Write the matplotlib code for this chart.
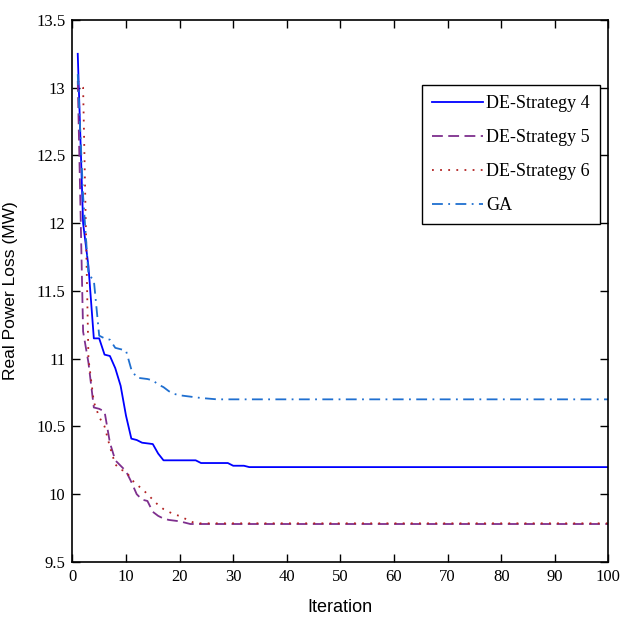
import matplotlib
matplotlib.use("Agg")
import matplotlib.pyplot as plt

# convergence data (iteration, real power loss in MW)
iter_de4 = [1, 2, 3, 4, 5, 6, 7, 8, 9, 10, 11, 12, 13, 15, 16, 17, 23, 24, 29, 30, 32, 33, 100]
loss_de4 = [13.25, 12.0, 11.68, 11.15, 11.15, 11.03, 11.02, 10.93, 10.80, 10.58, 10.41, 10.40,
            10.38, 10.37, 10.30, 10.25, 10.25, 10.23, 10.23, 10.21, 10.21, 10.20, 10.20]

iter_de5 = [1, 2, 3, 4, 5, 6, 7, 8, 9, 10, 11, 12, 13, 14, 15, 16, 17, 18, 20, 22, 100]
loss_de5 = [13.05, 11.2, 10.97, 10.64, 10.63, 10.61, 10.38, 10.25, 10.21, 10.17, 10.09, 10.0,
            9.96, 9.95, 9.87, 9.84, 9.82, 9.81, 9.80, 9.78, 9.78]

iter_de6 = [1, 2, 3, 4, 5, 6, 7, 8, 9, 10, 11, 12, 13, 14, 15, 16, 17, 18, 19, 20, 21, 22, 23, 100]
loss_de6 = [13.05, 13.0, 11.0, 10.68, 10.57, 10.5, 10.35, 10.22, 10.18, 10.17, 10.11, 10.07,
            10.04, 10.0, 9.96, 9.92, 9.89, 9.87, 9.85, 9.84, 9.82, 9.80, 9.785, 9.785]

iter_ga = [1, 2, 3, 4, 5, 6, 7, 8, 9, 10, 11, 12, 14, 15, 16, 17, 18, 19, 20, 22, 24, 27, 100]
loss_ga = [13.1, 12.2, 11.62, 11.58, 11.17, 11.15, 11.14, 11.08, 11.07, 11.06, 10.92, 10.86,
           10.85, 10.84, 10.81, 10.79, 10.76, 10.74, 10.73, 10.72, 10.71, 10.70, 10.70]

labels = ["DE-Strategy 4", "DE-Strategy 5", "DE-Strategy 6", "GA"]
x_ticks = list(range(0, 101, 10))
y_ticks = [9.5, 10, 10.5, 11, 11.5, 12, 12.5, 13, 13.5]

serif = ["Liberation Serif", "DejaVu Serif"]

fig = plt.figure(figsize=(6.24, 6.23), dpi=100)
ax = fig.add_axes([0.116, 0.098, 0.859, 0.870])

ax.plot(iter_de4, loss_de4, color="#0000FF", lw=1.3, ls="-", label=labels[0])
ax.plot(iter_de5, loss_de5, color="#7E2F8E", lw=1.3, ls=(0, (6, 3)), label=labels[1])
ax.plot(iter_de6, loss_de6, color="#B22222", lw=1.3, ls=(0, (1, 3.5)), label=labels[2])
ax.plot(iter_ga, loss_ga, color="#1F6FD0", lw=1.3, ls=(0, (6, 3, 1, 3)), label=labels[3])

ax.set_xlim(0, 100)
ax.set_ylim(9.5, 13.5)
ax.set_xticks(x_ticks)
ax.set_yticks(y_ticks)
ax.set_xticklabels([str(v) for v in x_ticks], family=serif, fontsize=12)
ax.set_yticklabels([f"{v:g}" for v in y_ticks], family=serif, fontsize=12)
ax.tick_params(direction="in", length=6, width=1, top=True, right=True, pad=5)
for s in ax.spines.values():
    s.set_linewidth(1.2)

ax.set_xlabel("Iteration", family=["Liberation Sans Narrow", "Liberation Sans"], fontsize=13)
ax.xaxis.set_label_coords(0.5, -0.068)
ax.set_ylabel("Real Power Loss (MW)", family=["Liberation Sans", "DejaVu Sans"], fontsize=12.5)
ax.yaxis.set_label_coords(-0.101, 0.5)

leg = ax.legend(loc="upper right", bbox_to_anchor=(0.984, 0.88), borderaxespad=0,
                prop={"family": serif, "size": 13}, fancybox=False, edgecolor="black",
                framealpha=1, handlelength=2.8, labelspacing=0.95, handletextpad=0.2,
                borderpad=0.55)
leg.get_frame().set_linewidth(1.0)

fig.savefig("out.png", dpi=100)
